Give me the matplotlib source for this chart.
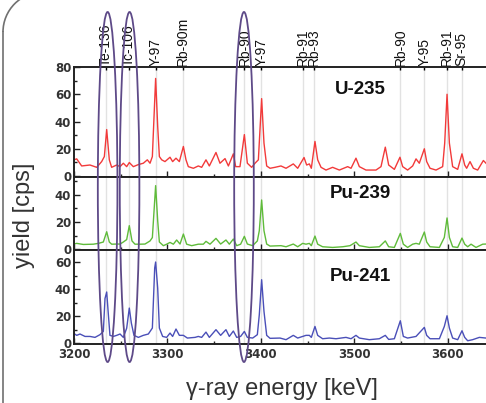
import matplotlib
matplotlib.use("Agg")
import matplotlib.pyplot as plt
from matplotlib.patches import Ellipse, Arc
from matplotlib.lines import Line2D
from matplotlib.ticker import MultipleLocator
import matplotlib.transforms as mtransforms

# ---- data (energy in keV, yield in cps) ----
u235_e = [3200, 3202.9, 3208.2, 3217.1, 3224.3, 3229.6, 3232.5, 3235.0, 3237.8, 3240.3,
          3245.7, 3249.3, 3252.8, 3256.4, 3259.2, 3263.5, 3268.9, 3274.2, 3278.5, 3281.4,
          3283.9, 3287.4, 3289.6, 3291.4, 3293.9, 3297.4, 3302.8, 3305.6, 3309.2, 3312.8,
          3317.1, 3319.9, 3322.4, 3327.8, 3333.1, 3336.7, 3341.3, 3344.9, 3352.0, 3356.3,
          3361.7, 3365.3, 3370.6, 3373.1, 3377.7, 3382.4, 3385.6, 3390.2, 3393.8, 3397.4,
          3400.9, 3403.4, 3406.3, 3409.9, 3415.2, 3421.6, 3427.0, 3434.8, 3439.5, 3446.3,
          3449.1, 3452.0, 3454.1, 3458.0, 3460.9, 3464.5, 3469.8, 3476.9, 3484.1, 3493.0,
          3496.6, 3501.9, 3505.5, 3512.6, 3523.3, 3528.7, 3533.3, 3536.9, 3543.0, 3549.0,
          3551.9, 3557.2, 3562.6, 3566.2, 3569.7, 3575.1, 3577.6, 3581.2, 3587.6, 3594.7,
          3596.9, 3599.4, 3601.9, 3605.4, 3610.8, 3615.4, 3618.3, 3620.4, 3624.0, 3627.6,
          3632.2, 3638.3, 3641.1]
u235_y = [11.9, 12.6, 7.4, 8.1, 6.4, 10.6, 14.3, 34.1, 11.9, 6.4,
          8.1, 6.9, 9.4, 6.9, 9.9, 6.9, 8.4, 9.4, 11.9, 9.4,
          14.3, 71.6, 36.5, 14.3, 11.9, 10.6, 13.8, 10.6, 13.1, 10.6,
          21.7, 11.9, 6.9, 5.7, 7.4, 6.4, 11.9, 7.4, 17.3, 9.4,
          12.8, 7.4, 16.3, 6.9, 6.9, 30.4, 9.4, 6.4, 9.4, 11.9,
          56.8, 24.2, 7.4, 5.7, 6.4, 7.4, 5.7, 8.9, 5.7, 13.6,
          8.1, 8.9, 5.7, 25.4, 11.9, 6.4, 4.4, 6.4, 4.4, 6.9,
          5.7, 13.1, 6.9, 4.4, 4.4, 6.9, 21.2, 8.1, 4.9, 13.8,
          6.9, 4.4, 7.4, 12.6, 9.4, 20.0, 10.6, 5.7, 4.4, 6.9,
          24.2, 60.0, 24.2, 6.9, 4.9, 16.3, 8.1, 5.7, 10.6, 5.7,
          4.4, 11.4, 9.4]

pu239_e = [3199.3, 3202.9, 3210.0, 3220.7, 3226.1, 3231.4, 3235.0, 3237.8, 3240.3, 3245.7,
           3249.3, 3252.8, 3256.4, 3259.2, 3262.1, 3265.3, 3270.7, 3276.0, 3281.4, 3283.9,
           3287.4, 3289.6, 3291.4, 3295.7, 3299.2, 3302.8, 3306.4, 3309.9, 3313.5, 3317.1,
           3320.6, 3326.0, 3333.1, 3338.5, 3341.3, 3345.6, 3352.0, 3357.0, 3362.7, 3366.3,
           3370.6, 3374.2, 3378.4, 3382.4, 3385.6, 3391.3, 3396.3, 3398.4, 3400.9, 3403.4,
           3406.3, 3409.9, 3421.6, 3427.0, 3434.8, 3439.5, 3444.8, 3448.4, 3452.0, 3454.1,
           3458.0, 3460.9, 3466.2, 3476.9, 3487.7, 3495.5, 3501.9, 3505.5, 3516.2, 3526.9,
           3533.3, 3536.9, 3543.0, 3549.4, 3552.6, 3557.2, 3562.6, 3566.2, 3569.7, 3575.1,
           3577.6, 3581.2, 3591.2, 3596.5, 3599.4, 3601.9, 3605.4, 3610.8, 3615.4, 3618.3,
           3621.5, 3625.1, 3630.4, 3637.6, 3641.1]
pu239_y = [3.7, 4.2, 3.4, 3.6, 4.2, 5.2, 12.8, 5.2, 3.6, 3.7,
           3.7, 5.2, 7.0, 17.3, 6.0, 3.6, 3.6, 3.7, 6.0, 8.5,
           46.9, 21.0, 5.2, 2.5, 3.6, 4.9, 3.6, 6.7, 3.7, 11.1,
           3.6, 2.5, 3.6, 3.6, 5.7, 3.6, 7.9, 3.7, 6.7, 3.6,
           7.4, 2.5, 3.6, 9.4, 3.7, 2.5, 6.0, 13.6, 36.3, 13.6,
           3.7, 2.2, 2.5, 1.7, 3.7, 1.7, 4.2, 3.6, 4.2, 2.5,
           9.6, 3.6, 1.7, 1.2, 1.7, 2.5, 5.2, 2.5, 1.2, 1.7,
           6.0, 1.7, 1.2, 11.6, 3.6, 1.2, 3.6, 4.2, 3.6, 12.6,
           5.2, 1.7, 1.2, 8.6, 23.0, 8.6, 1.7, 1.2, 8.1, 3.6,
           1.7, 3.6, 1.2, 3.6, 3.7]

pu241_e = [3199.3, 3202.9, 3206.4, 3211.8, 3217.1, 3222.5, 3227.8, 3231.4, 3233.2, 3235.0,
           3236.8, 3238.5, 3242.1, 3245.7, 3249.3, 3252.8, 3256.4, 3259.2, 3261.4, 3264.2,
           3268.9, 3274.2, 3279.6, 3283.9, 3286.4, 3287.4, 3289.6, 3291.4, 3294.9, 3299.2,
           3302.8, 3305.6, 3309.2, 3312.8, 3317.1, 3321.4, 3329.6, 3333.1, 3336.7, 3341.3,
           3344.9, 3352.0, 3357.0, 3362.7, 3366.3, 3370.6, 3374.2, 3378.4, 3382.4, 3385.6,
           3391.3, 3396.3, 3398.4, 3400.9, 3403.4, 3406.3, 3409.9, 3420.6, 3427.0, 3434.8,
           3439.5, 3444.8, 3448.4, 3452.0, 3454.1, 3458.0, 3460.9, 3466.2, 3473.4, 3480.5,
           3491.2, 3496.6, 3501.9, 3505.5, 3516.2, 3526.9, 3533.3, 3536.9, 3543.0, 3549.4,
           3552.6, 3557.2, 3566.2, 3575.1, 3577.6, 3581.2, 3591.2, 3596.5, 3599.4, 3601.9,
           3605.4, 3610.8, 3615.4, 3618.3, 3621.5, 3626.8, 3634.0, 3641.1]
pu241_y = [7.4, 5.7, 6.7, 4.9, 4.9, 4.2, 6.2, 8.6, 33.0, 37.8,
           21.0, 5.7, 4.9, 5.7, 6.7, 4.2, 11.0, 25.9, 14.8, 5.7,
           4.2, 5.7, 6.7, 11.1, 55.6, 60.0, 40.7, 11.1, 4.9, 4.2,
           7.4, 4.9, 10.4, 5.7, 5.7, 3.7, 4.2, 4.9, 4.2, 8.1,
           4.2, 9.9, 5.7, 9.9, 4.9, 8.9, 4.2, 4.9, 8.6, 4.2,
           3.7, 6.2, 21.0, 46.9, 23.5, 5.7, 3.5, 3.7, 2.5, 5.7,
           3.7, 4.9, 5.7, 5.7, 4.2, 12.3, 5.7, 3.2, 3.7, 3.2,
           4.2, 3.2, 5.7, 3.7, 2.5, 3.2, 5.7, 2.7, 3.2, 16.5,
           4.9, 3.7, 4.9, 11.6, 5.7, 3.2, 3.2, 12.3, 20.2, 11.1,
           3.7, 2.5, 9.1, 4.2, 1.7, 2.5, 4.2, 3.7]

samples = ["U-235", "Pu-239", "Pu-241"]
line_energies = [3234.5, 3258.5, 3287.5, 3316.5, 3382.5, 3400.5,
                 3445.0, 3456.5, 3549.5, 3575.0, 3599.5, 3615.0]
line_names = ["Te-136", "Tc-106", "Y-97", "Rb-90m", "Rb-90", "Y-97",
              "Rb-91", "Rb-93", "Rb-90", "Y-95", "Rb-91", "Sr-95"]
circled_energies = [3236.0, 3259.5, 3382.0]

W, H = 486, 403
fig = plt.figure(figsize=(W / 100, H / 100), dpi=100)

tick_font = dict(family="DejaVu Sans", weight="bold", size=8.5)
xw = (3650 - 3200) * 0.934 / W


def panel(top_px, bot_px, ytop):
    ax = fig.add_axes([74 / W, (H - bot_px) / H, xw, (bot_px - top_px) / H])
    ax.set_xlim(3200, 3650)
    for s in ax.spines.values():
        s.set_linewidth(1.4)
        s.set_color("#222222")
    ax.xaxis.set_major_locator(MultipleLocator(100))
    ax.xaxis.set_minor_locator(MultipleLocator(50))
    ax.set_yticks(list(range(0, int(ytop) + 1, 20)))
    ax.yaxis.set_minor_locator(MultipleLocator(10))
    ax.set_yticklabels([str(t) for t in range(0, int(ytop) + 1, 20)], fontdict=tick_font)
    ax.set_ylim(-0.7, ytop)
    ax.tick_params(which="both", direction="in", top=False, right=False,
                   colors="#222222", labelcolor="#333333", pad=2)
    ax.tick_params(which="major", length=4, width=1)
    ax.tick_params(which="minor", length=2, width=1)
    for e in line_energies:
        ax.axvline(e, color="#e2e2e2", lw=1, zorder=0)
    return ax


ax1 = panel(67, 177, 80)
ax2 = panel(177, 250, 53.3)
ax3 = panel(250, 344, 68.9)

ax1.plot(u235_e, u235_y, color="#f23a3a", lw=1)
ax2.plot(pu239_e, pu239_y, color="#5fbb3a", lw=1)
ax3.plot(pu241_e, pu241_y, color="#4a4fb8", lw=1)

ax1.tick_params(labelbottom=False)
ax2.tick_params(labelbottom=False)
ax3.set_xticks([3200, 3300, 3400, 3500, 3600])
ax3.set_xticklabels(["3200", "3300", "3400", "3500", "3600"], fontdict=tick_font)
ax3.tick_params(axis="x", pad=3)

# sample names
for ax, name, yf in zip((ax1, ax2, ax3), samples, (0.8, 0.78, 0.72)):
    ax.text(3507, yf, name,
            transform=mtransforms.blended_transform_factory(ax.transData, ax.transAxes),
            ha="center", va="center", fontsize=13.5, fontweight="bold",
            family="Liberation Sans", color="#111111")

# gamma line labels on top
top = ax1.secondary_xaxis("top")
top.set_xticks(line_energies)
top.set_xticklabels(line_names, rotation=90, family="Liberation Sans", fontsize=10,
                    color="#111111")
top.tick_params(direction="in", length=2, width=1, pad=1)
top.spines["top"].set_visible(False)

# axis labels
fig.text(24 / W, 1 - 215 / H, "yield [cps]", rotation=90, ha="center", va="center",
         family="Liberation Sans", fontsize=17, color="#333333")
fig.text(282 / W, 1 - 389 / H, "γ-ray energy [keV]", ha="center", va="center",
         family="Liberation Sans", fontsize=17, color="#333333")

# purple ellipses around selected lines
tr = mtransforms.blended_transform_factory(ax3.transData, fig.transFigure)
for e in circled_energies:
    ell = Ellipse((e, 1 - 187 / H), width=21, height=350 / H, transform=tr,
                  fill=False, edgecolor="#5e4a88", lw=1.3, clip_on=False, zorder=10)
    fig.add_artist(ell)

# rounded frame (pixel coordinates)
ident = mtransforms.IdentityTransform()
r = 40
x0, ytop_px = 3, H + 8
fig.add_artist(Arc((x0 + r, ytop_px - r), 2 * r, 2 * r, theta1=90, theta2=180,
                   transform=ident, edgecolor="#707070", lw=1.2))
fig.add_artist(Line2D([x0, x0], [-10, ytop_px - r], transform=ident,
                      color="#707070", lw=1.2))
fig.add_artist(Line2D([x0 + r, W + 10], [ytop_px, ytop_px], transform=ident,
                      color="#707070", lw=1.2))

fig.savefig("out.png", dpi=100)
